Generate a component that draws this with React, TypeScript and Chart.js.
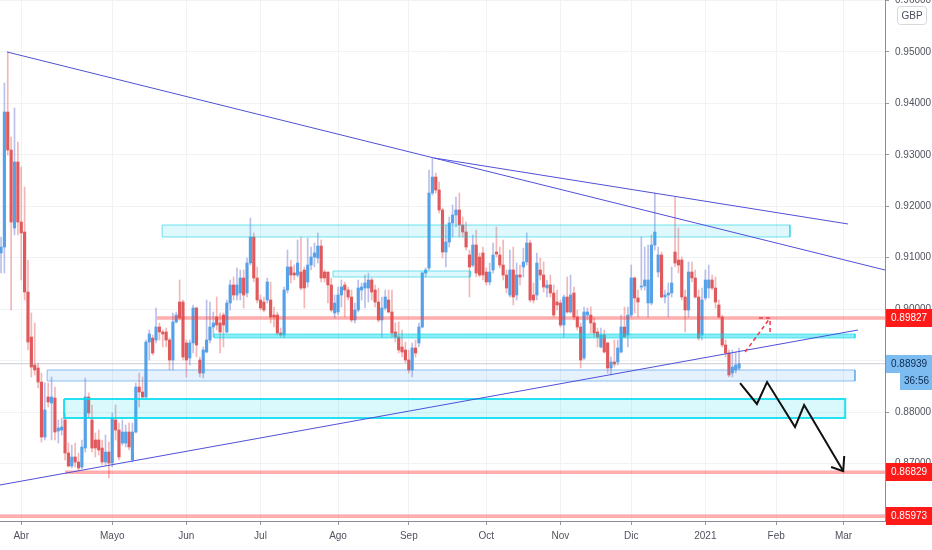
import React, { useEffect, useRef } from 'react';
import { Chart, registerables } from 'chart.js';

Chart.register(...registerables);

// ---- Daily EUR/GBP candles (Apr 2020 – Jan 2021) ----
const opens = [
  0.91092, 0.91208, 0.93833, 0.93094, 0.91578, 0.92861, 0.91694, 0.91500, 0.90333, 0.89458,
  0.88914, 0.88856, 0.88583, 0.87514, 0.88292, 0.88175, 0.88272, 0.87631, 0.87650, 0.87845,
  0.87203, 0.86950, 0.87125, 0.87028, 0.86931, 0.87300, 0.88292, 0.87845, 0.87456, 0.87456,
  0.87300, 0.87028, 0.87222, 0.87008, 0.87845, 0.87650, 0.87397, 0.87397, 0.87611, 0.87067,
  0.87611, 0.88486, 0.88389, 0.88292, 0.89361, 0.89439, 0.89400, 0.89653, 0.89556, 0.89556,
  0.89400, 0.89011, 0.89750, 0.90139, 0.90139, 0.89342, 0.89050, 0.89342, 0.90022, 0.89011,
  0.88758, 0.89167, 0.89400, 0.89653, 0.89847, 0.89731, 0.89886, 0.89556, 0.90120, 0.90470,
  0.90275, 0.90314, 0.90606, 0.90314, 0.90897, 0.91403, 0.90606, 0.90178, 0.90139, 0.90178,
  0.90178, 0.89886, 0.89886, 0.89536, 0.89497, 0.90372, 0.90820, 0.90703, 0.90664, 0.90722,
  0.90761, 0.90528, 0.90858, 0.91014, 0.90994, 0.91228, 0.90722, 0.90722, 0.90470, 0.89925,
  0.89945, 0.90275, 0.90470, 0.90372, 0.90236, 0.89789, 0.89983, 0.90372, 0.90411, 0.90411,
  0.90567, 0.90372, 0.90139, 0.89789, 0.90022, 0.90178, 0.89945, 0.89556, 0.89458, 0.89264,
  0.89206, 0.89011, 0.88817, 0.89245, 0.89342, 0.89653, 0.90703, 0.90800, 0.92258, 0.92569,
  0.92317, 0.91928, 0.91111, 0.91306, 0.91675, 0.91831, 0.91928, 0.91636, 0.91500, 0.91053,
  0.90858, 0.91247, 0.91014, 0.91092, 0.90722, 0.90528, 0.90761, 0.91111, 0.91053, 0.90858,
  0.90664, 0.90275, 0.90761, 0.90275, 0.90664, 0.90820, 0.90917, 0.91286, 0.90275, 0.90275,
  0.90761, 0.90664, 0.90411, 0.90470, 0.90314, 0.90139, 0.90120, 0.89692, 0.90236, 0.89945,
  0.90314, 0.89847, 0.89653, 0.89050, 0.89886, 0.89886, 0.89731, 0.89556, 0.89264, 0.89497,
  0.89342, 0.88856, 0.88972, 0.88972, 0.89167, 0.89653, 0.89497, 0.89886, 0.90606, 0.90217,
  0.90431, 0.90450, 0.90120, 0.90120, 0.91247, 0.90722, 0.91053, 0.90236, 0.90275, 0.90314,
  0.91111, 0.90956, 0.90956, 0.90236, 0.89983, 0.90722, 0.90606, 0.90236, 0.89497, 0.90217,
  0.90411, 0.90567, 0.90411, 0.90081, 0.89847, 0.89303, 0.89147, 0.88758, 0.88817, 0.88850,
];
const highs = [
  0.91403, 0.94397, 0.95000, 0.93347, 0.93911, 0.93250, 0.92764, 0.92375, 0.90956, 0.89925,
  0.89731, 0.88953, 0.88758, 0.88564, 0.88564, 0.88681, 0.88486, 0.87845, 0.87883, 0.87981,
  0.87397, 0.87358, 0.87397, 0.87203, 0.87456, 0.88661, 0.88370, 0.88136, 0.87592, 0.87650,
  0.87456, 0.87553, 0.87417, 0.87981, 0.88136, 0.87786, 0.87845, 0.87747, 0.87786, 0.87786,
  0.88564, 0.88758, 0.88681, 0.89400, 0.89595, 0.89497, 0.90022, 0.89731, 0.89595, 0.89633,
  0.89439, 0.89925, 0.89945, 0.90567, 0.90178, 0.89400, 0.89400, 0.90081, 0.90042, 0.89070,
  0.89264, 0.90178, 0.90139, 0.89945, 0.90236, 0.89925, 0.89925, 0.90178, 0.90567, 0.90625,
  0.90800, 0.90761, 0.90761, 0.90994, 0.91772, 0.91481, 0.90820, 0.90275, 0.90236, 0.90606,
  0.90528, 0.90042, 0.89945, 0.89633, 0.90431, 0.91150, 0.90956, 0.90858, 0.91344, 0.91403,
  0.90820, 0.91383, 0.91208, 0.91286, 0.91481, 0.91344, 0.90761, 0.90722, 0.90606, 0.90275,
  0.90431, 0.90567, 0.90528, 0.90431, 0.90372, 0.90120, 0.90567, 0.90508, 0.90664, 0.90703,
  0.90606, 0.90470, 0.90411, 0.90236, 0.90372, 0.90372, 0.90372, 0.89731, 0.89750, 0.89595,
  0.89361, 0.89206, 0.89342, 0.89400, 0.89731, 0.90722, 0.90800, 0.92706, 0.92939, 0.92647,
  0.92472, 0.91967, 0.91636, 0.91792, 0.92025, 0.92181, 0.92258, 0.91792, 0.91694, 0.91150,
  0.91442, 0.91539, 0.91092, 0.91208, 0.90800, 0.90897, 0.91286, 0.91597, 0.91208, 0.91344,
  0.90761, 0.91150, 0.91208, 0.90897, 0.90858, 0.91189, 0.91481, 0.91344, 0.90508, 0.91092,
  0.90994, 0.90917, 0.90567, 0.90664, 0.90470, 0.90372, 0.90178, 0.90275, 0.90625, 0.90664,
  0.90431, 0.89983, 0.89731, 0.90042, 0.90022, 0.90042, 0.89828, 0.89633, 0.89633, 0.89595,
  0.89361, 0.89070, 0.89400, 0.89400, 0.89886, 0.90042, 0.90042, 0.90858, 0.90625, 0.90372,
  0.91403, 0.91208, 0.91247, 0.91442, 0.92258, 0.91208, 0.91111, 0.90372, 0.90508, 0.90820,
  0.92181, 0.91578, 0.91014, 0.90372, 0.90917, 0.90917, 0.90761, 0.90372, 0.90411, 0.90761,
  0.90858, 0.90664, 0.90625, 0.90178, 0.89886, 0.89400, 0.89206, 0.89206, 0.89167, 0.89245,
];
const lows = [
  0.90703, 0.90703, 0.92997, 0.89983, 0.91442, 0.91442, 0.90567, 0.90178, 0.89206, 0.88681,
  0.88720, 0.88467, 0.87417, 0.87456, 0.88097, 0.87456, 0.87456, 0.87397, 0.87553, 0.87067,
  0.86931, 0.86911, 0.86931, 0.86872, 0.86892, 0.87222, 0.87903, 0.87222, 0.87125, 0.87164,
  0.86970, 0.86970, 0.86717, 0.86931, 0.87456, 0.87067, 0.87358, 0.87320, 0.87261, 0.87028,
  0.87592, 0.88097, 0.88272, 0.88272, 0.89011, 0.89108, 0.89342, 0.89400, 0.89264, 0.89264,
  0.88817, 0.88817, 0.89731, 0.89789, 0.89011, 0.88681, 0.88914, 0.89147, 0.89070, 0.88681,
  0.88661, 0.89147, 0.89342, 0.89458, 0.89595, 0.89147, 0.89264, 0.89536, 0.89983, 0.90178,
  0.90178, 0.90178, 0.90022, 0.90236, 0.90858, 0.90528, 0.90120, 0.89983, 0.89945, 0.90120,
  0.89731, 0.89653, 0.89497, 0.89458, 0.89439, 0.90314, 0.90508, 0.90567, 0.90625, 0.90372,
  0.90022, 0.90431, 0.90761, 0.90820, 0.90897, 0.90528, 0.90528, 0.90120, 0.89945, 0.89828,
  0.89886, 0.90042, 0.89847, 0.90178, 0.89750, 0.89731, 0.89945, 0.90178, 0.90022, 0.90139,
  0.90178, 0.90042, 0.89750, 0.89458, 0.89983, 0.89925, 0.89458, 0.89361, 0.89147, 0.89070,
  0.88953, 0.88758, 0.88681, 0.89070, 0.89264, 0.89633, 0.90625, 0.90761, 0.92219, 0.92258,
  0.91869, 0.90994, 0.90820, 0.91208, 0.91403, 0.91597, 0.91403, 0.91403, 0.91150, 0.90236,
  0.90820, 0.90625, 0.90625, 0.90567, 0.90470, 0.90470, 0.90703, 0.91014, 0.90800, 0.90567,
  0.90314, 0.90236, 0.90081, 0.90178, 0.90470, 0.90625, 0.90858, 0.90139, 0.90120, 0.90178,
  0.90567, 0.90333, 0.90236, 0.90236, 0.89847, 0.89983, 0.89653, 0.89458, 0.89925, 0.89925,
  0.89789, 0.89595, 0.88856, 0.89011, 0.89789, 0.89536, 0.89458, 0.89264, 0.89245, 0.89147,
  0.88758, 0.88720, 0.88875, 0.88914, 0.89147, 0.89458, 0.89264, 0.89847, 0.89925, 0.89847,
  0.90372, 0.90372, 0.89847, 0.90081, 0.91150, 0.90625, 0.90217, 0.90120, 0.89847, 0.90236,
  0.90820, 0.90703, 0.90178, 0.89556, 0.89847, 0.90528, 0.90217, 0.89400, 0.89400, 0.90178,
  0.90217, 0.90372, 0.90022, 0.89828, 0.89264, 0.89070, 0.88681, 0.88681, 0.88758, 0.88820,
];
const closes = [
  0.91208, 0.93833, 0.93094, 0.91694, 0.92861, 0.91694, 0.91481, 0.90333, 0.89361, 0.88875,
  0.88817, 0.88583, 0.87514, 0.88039, 0.88195, 0.88292, 0.87611, 0.87689, 0.87708, 0.87203,
  0.86950, 0.87125, 0.87028, 0.86911, 0.87320, 0.88292, 0.87981, 0.87300, 0.87300, 0.87261,
  0.87028, 0.87222, 0.87008, 0.87864, 0.87650, 0.87125, 0.87611, 0.87611, 0.87320, 0.87611,
  0.88486, 0.88389, 0.88292, 0.89361, 0.89517, 0.89147, 0.89653, 0.89556, 0.89517, 0.89400,
  0.89011, 0.89750, 0.89886, 0.89828, 0.89070, 0.89011, 0.89342, 0.90022, 0.89303, 0.88758,
  0.89206, 0.89400, 0.89653, 0.89731, 0.89692, 0.89556, 0.89692, 0.90120, 0.90470, 0.90275,
  0.90470, 0.90606, 0.90275, 0.90897, 0.91403, 0.90606, 0.90178, 0.90022, 0.89983, 0.90528,
  0.89847, 0.89847, 0.89536, 0.89497, 0.90372, 0.90820, 0.90664, 0.90664, 0.90897, 0.90411,
  0.90411, 0.90858, 0.91014, 0.91092, 0.91228, 0.90606, 0.90606, 0.90470, 0.89983, 0.90120,
  0.90275, 0.90431, 0.90372, 0.90236, 0.89789, 0.89983, 0.90411, 0.90431, 0.90508, 0.90567,
  0.90333, 0.90139, 0.89789, 0.90022, 0.90236, 0.89945, 0.89536, 0.89458, 0.89206, 0.89167,
  0.89011, 0.88817, 0.89245, 0.89147, 0.89653, 0.90703, 0.90761, 0.92258, 0.92569, 0.92317,
  0.91928, 0.91111, 0.91306, 0.91675, 0.91831, 0.91928, 0.91636, 0.91500, 0.91208, 0.90820,
  0.91247, 0.90703, 0.90664, 0.90664, 0.90528, 0.90722, 0.91053, 0.91072, 0.90858, 0.90664,
  0.90411, 0.90761, 0.90236, 0.90664, 0.90625, 0.90917, 0.91286, 0.90178, 0.90178, 0.90897,
  0.90664, 0.90431, 0.90470, 0.90314, 0.89886, 0.90081, 0.89692, 0.90236, 0.89945, 0.90275,
  0.89847, 0.89653, 0.89011, 0.89945, 0.89945, 0.89731, 0.89536, 0.89458, 0.89497, 0.89167,
  0.88856, 0.88972, 0.88933, 0.89245, 0.89653, 0.89458, 0.89886, 0.90606, 0.90217, 0.90139,
  0.90450, 0.90567, 0.90567, 0.91247, 0.91500, 0.91053, 0.90236, 0.90275, 0.90314, 0.90508,
  0.90897, 0.90858, 0.90236, 0.89983, 0.90722, 0.90606, 0.90236, 0.89439, 0.90178, 0.90567,
  0.90567, 0.90411, 0.90139, 0.89847, 0.89303, 0.89147, 0.88720, 0.88875, 0.88914, 0.88939,
];

// ---- Axes ----
const monthLabels = ['Abr', 'Mayo', 'Jun', 'Jul', 'Ago', 'Sep', 'Oct', 'Nov', 'Dic', '2021', 'Feb', 'Mar'];
const monthBars = [6, 33, 55, 77, 100, 121, 144, 166, 187, 209, 230, 250];
const priceTicks = [0.86, 0.87, 0.88, 0.89, 0.9, 0.91, 0.92, 0.93, 0.94, 0.95, 0.96];
const xMin = -0.3;
const xMax = 262.3;
const yMin = 0.85881;
const yMax = 0.96011;

// ---- Drawings (bar index, price) ----
const redLevels = [0.89827, 0.86829, 0.85973];
const redLevelStarts = [46.3, 19, -0.3];
const lastPrice = 0.88939;
const countdown = '36:56';
const currency = 'GBP';

const trendLines = [
  [[1.8, 0.95], [262.3, 0.90761]],
  [[128.5, 0.92939], [251.3, 0.91656]],
  [[-0.3, 0.86581], [254.3, 0.89595]],
];

const zoneStart = [47.8, 98.5, 63.2, 13.7, 18.7];
const zoneEnd = [234.1, 139.2, 253.4, 253.4, 250.5];
const zoneTop = [0.91636, 0.90742, 0.89517, 0.88817, 0.88253];
const zoneBottom = [0.91403, 0.90625, 0.89439, 0.88603, 0.87883];

const zigzag = [
  [219.3, 0.88564], [224.3, 0.88156], [227.3, 0.88583], [235.6, 0.87708], [238.3, 0.88136], [249.9, 0.86851],
];
const zigzagHead = [[246.3, 0.86931], [249.9, 0.86851], [250.2, 0.87145]];
const dashedArrow = [[220.8, 0.89167], [228.2, 0.89828]];
const dashedHead = [[224.9, 0.89828], [228.2, 0.89828], [228.2, 0.89556]];

const FONT = "'Liberation Sans', Arial, sans-serif";

const zoneStyles = [
  { fill: 'rgba(0, 200, 230, 0.13)', line: 'rgba(0, 205, 230, 0.55)', w: 1 },
  { fill: 'rgba(0, 200, 230, 0.13)', line: 'rgba(0, 205, 230, 0.55)', w: 1 },
  { fill: 'rgba(0, 215, 235, 0.45)', line: 'rgba(0, 215, 235, 0.6)', w: 1 },
  { fill: 'rgba(80, 170, 240, 0.15)', line: 'rgba(70, 150, 230, 0.6)', w: 1 },
  { fill: 'rgba(0, 215, 235, 0.15)', line: 'rgba(0, 220, 240, 0.85)', w: 2 },
];

function lineDs(pts: number[][], color: string, width: number, dash: number[] = [], order = 1) {
  return {
    type: 'line' as const,
    data: pts.map(([x, y]) => ({ x, y })),
    borderColor: color,
    borderWidth: width,
    borderDash: dash,
    pointRadius: 0,
    pointHoverRadius: 0,
    fill: false,
    tension: 0,
    order,
  };
}

const labelPlugin = {
  id: 'priceLabels',
  afterDraw(chart: any) {
    const { ctx, chartArea } = chart;
    const y = chart.scales.y;
    const x0 = chartArea.right;
    ctx.save();
    ctx.font = `10px ${FONT}`;
    ctx.textBaseline = 'middle';
    ctx.textAlign = 'left';
    redLevels.forEach((v) => {
      const py = Math.round(y.getPixelForValue(v));
      ctx.fillStyle = '#ff1a1a';
      ctx.fillRect(x0 + 1, py - 9, 47, 18);
      ctx.fillStyle = '#ffffff';
      ctx.fillText(v.toFixed(5), x0 + 6, py + 0.5);
    });
    const pl = Math.round(y.getPixelForValue(lastPrice));
    ctx.fillStyle = '#7dbcf0';
    ctx.fillRect(x0 + 1, pl - 9, 47, 18);
    ctx.fillRect(x0 + 15, pl + 9, 33, 17);
    ctx.fillStyle = '#0c2a52';
    ctx.fillText(lastPrice.toFixed(5), x0 + 6, pl + 0.5);
    ctx.fillText(countdown, x0 + 19, pl + 17.5);
    // currency badge
    ctx.fillStyle = '#ffffff';
    ctx.strokeStyle = '#d6d8de';
    ctx.lineWidth = 1;
    const bx = x0 + 12.5, by = 6.5, bw = 29, bh = 18;
    ctx.beginPath();
    ctx.roundRect(bx, by, bw, bh, 3);
    ctx.fill();
    ctx.stroke();
    ctx.fillStyle = '#4a4e5a';
    ctx.font = `10px ${FONT}`;
    ctx.textAlign = 'center';
    ctx.fillText(currency, bx + bw / 2, by + bh / 2 + 0.5);
    ctx.restore();
  },
};

export default function App() {
  const ref = useRef<HTMLCanvasElement>(null);

  useEffect(() => {
    const canvas = ref.current;
    if (!canvas) return;
    const idx = opens.map((_, i) => i);
    const up = idx.map((i) => closes[i] >= opens[i]);

    const datasets: any[] = [];

    // zones (fill + outline)
    zoneStart.forEach((x1, k) => {
      const x2 = zoneEnd[k];
      const t = zoneTop[k];
      const b = zoneBottom[k];
      const st = zoneStyles[k];
      datasets.push({
        type: 'line',
        data: [{ x: x1, y: t }, { x: x2, y: t }],
        borderWidth: 0,
        borderColor: 'transparent',
        backgroundColor: st.fill,
        pointRadius: 0,
        fill: { value: b },
        order: 3,
      });
      datasets.push(lineDs([[x1, t], [x2, t], [x2, b], [x1, b], [x1, t]], st.line, st.w, [], 3));
    });

    // last price line
    datasets.push(lineDs([[xMin, lastPrice], [xMax, lastPrice]], 'rgba(140,145,160,0.45)', 1, [], 4));

    // red horizontal levels
    redLevels.forEach((v, k) => {
      datasets.push(lineDs([[redLevelStarts[k], v], [xMax, v]], 'rgba(255, 60, 60, 0.42)', 3.5, [], 2));
    });

    // trend lines
    trendLines.forEach((pts) => datasets.push(lineDs(pts, '#5050d8', 1, [], 1)));

    // projection arrows
    datasets.push(lineDs(zigzag, '#111111', 2, [], 0));
    datasets.push(lineDs(zigzagHead, '#111111', 2, [], 0));
    datasets.push(lineDs(dashedArrow, '#f23645', 1.5, [4, 3], 0));
    datasets.push(lineDs(dashedHead, '#f23645', 1.5, [4, 3], 0));

    // candles
    datasets.push({
      type: 'bar',
      data: idx.map((i) => ({
        x: i,
        y: [Math.min(lows[i], opens[i], closes[i]), Math.max(highs[i], opens[i], closes[i])],
      })),
      backgroundColor: up.map((u) => (u ? 'rgba(130, 140, 215, 0.55)' : 'rgba(236, 110, 110, 0.5)')),
      barThickness: 1,
      grouped: false,
      borderWidth: 0,
      borderSkipped: false,
      order: 6,
    });
    datasets.push({
      type: 'bar',
      data: idx.map((i) => ({ x: i, y: [opens[i], closes[i]] })),
      backgroundColor: up.map((u) => (u ? '#56a2e8' : '#e0595c')),
      barThickness: 2.5,
      minBarLength: 1,
      grouped: false,
      borderWidth: 0,
      borderSkipped: false,
      order: 5,
    });

    const chart = new Chart(canvas, {
      type: 'bar',
      data: { datasets },
      plugins: [labelPlugin],
      options: {
        animation: false,
        responsive: false,
        maintainAspectRatio: false,
        layout: { padding: 0 },
        plugins: { legend: { display: false }, tooltip: { enabled: false } },
        events: [],
        scales: {
          x: {
            type: 'linear',
            position: 'bottom',
            min: xMin,
            max: xMax,
            offset: false,
            grid: { offset: false, color: '#f1f2f6', tickColor: '#9598a1', tickLength: 4, drawTicks: true },
            border: { display: true, color: '#8a8d97', width: 1 },
            afterBuildTicks: (axis: any) => {
              axis.ticks = monthBars.map((v) => ({ value: v }));
            },
            afterFit: (axis: any) => {
              axis.height = 29;
              axis.paddingLeft = 0;
              axis.paddingRight = 0;
            },
            ticks: {
              autoSkip: false,
              maxRotation: 0,
              padding: 5,
              color: '#50535e',
              font: { family: FONT, size: 10 },
              callback: (v: any) => {
                const k = monthBars.indexOf(Number(v));
                return k >= 0 ? monthLabels[k] : '';
              },
            },
          },
          y: {
            type: 'linear',
            position: 'right',
            min: yMin,
            max: yMax,
            beginAtZero: false,
            grid: { color: '#f1f2f6', tickColor: '#9598a1', tickLength: 4, drawTicks: true },
            border: { display: true, color: '#8a8d97', width: 1 },
            afterBuildTicks: (axis: any) => {
              axis.ticks = priceTicks.map((v) => ({ value: v }));
            },
            afterFit: (axis: any) => {
              axis.width = 47;
              axis.paddingTop = 0;
              axis.paddingBottom = 0;
            },
            ticks: {
              padding: 6,
              color: '#50535e',
              font: { family: FONT, size: 10 },
              callback: (v: any) => Number(v).toFixed(5),
            },
          },
        },
      } as any,
    });

    return () => chart.destroy();
  }, []);

  return (
    <div style={{ position: 'fixed', left: 0, top: 0, width: 932, height: 550, background: '#ffffff' }}>
      <canvas ref={ref} width={932} height={550} style={{ width: 932, height: 550, display: 'block' }} />
    </div>
  );
}
